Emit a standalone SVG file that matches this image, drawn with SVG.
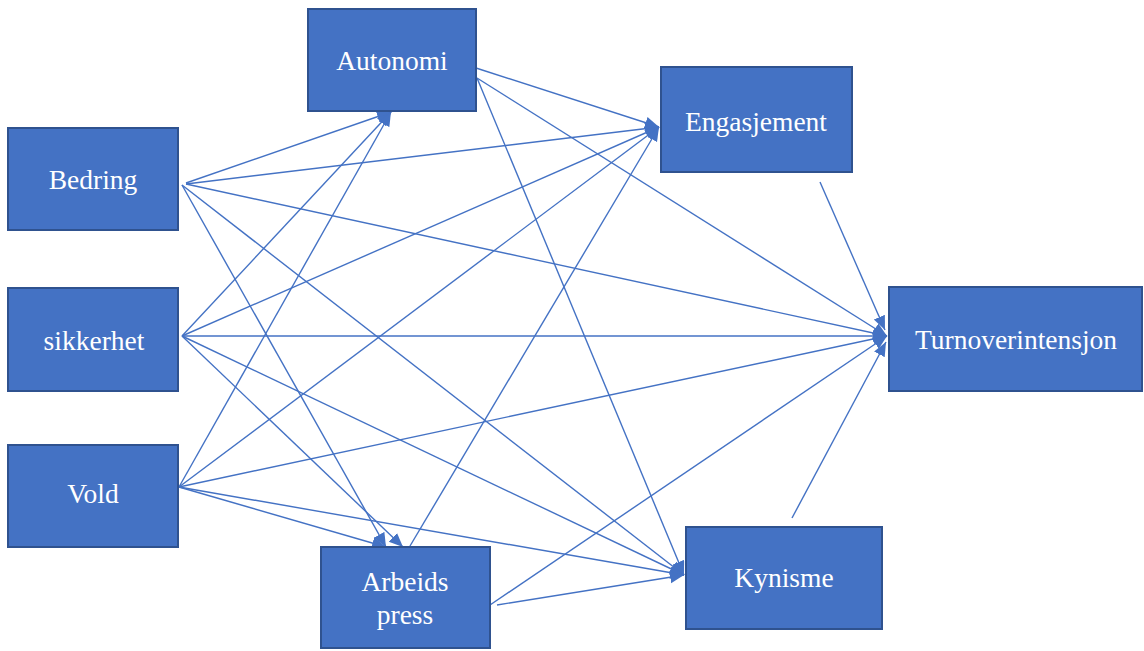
<svg xmlns="http://www.w3.org/2000/svg" width="1144" height="651" viewBox="0 0 1144 651">
<style>
.box{fill:#4472C4;stroke:#2F528F;stroke-width:2}
.lbl{font-family:"Liberation Serif","Times New Roman",serif;font-size:27.5px;fill:#ffffff;text-anchor:middle}
.c{stroke:#4472C4;stroke-width:1.4;fill:none;marker-end:url(#ah)}
</style>
<defs>
<marker id="ah" markerUnits="userSpaceOnUse" markerWidth="15" markerHeight="13" refX="14" refY="6" orient="auto">
<path d="M0,0 L14,6 L0,12 z" fill="#4472C4"/>
</marker>
</defs>
<rect width="1144" height="651" fill="#ffffff"/>
<g id="connectors">
<line class="c" x1="186" y1="183" x2="391" y2="112"/>
<line class="c" x1="186" y1="184" x2="659" y2="127"/>
<line class="c" x1="186" y1="184" x2="887" y2="336"/>
<line class="c" x1="182" y1="185" x2="386" y2="547"/>
<line class="c" x1="182" y1="185" x2="684" y2="575"/>
<line class="c" x1="182" y1="336" x2="391" y2="112"/>
<line class="c" x1="182" y1="336" x2="659" y2="127"/>
<line class="c" x1="182" y1="336" x2="887" y2="336"/>
<line class="c" x1="182" y1="336" x2="403" y2="547"/>
<line class="c" x1="182" y1="336" x2="684" y2="575"/>
<line class="c" x1="179" y1="487" x2="391" y2="112"/>
<line class="c" x1="179" y1="487" x2="659" y2="127"/>
<line class="c" x1="179" y1="487" x2="887" y2="336"/>
<line class="c" x1="179" y1="487" x2="386" y2="547"/>
<line class="c" x1="179" y1="487" x2="684" y2="575"/>
<line class="c" x1="476" y1="68" x2="659" y2="127"/>
<line class="c" x1="477" y1="78" x2="887" y2="336"/>
<line class="c" x1="477" y1="78" x2="684" y2="575"/>
<line class="c" x1="410" y1="546" x2="659" y2="127"/>
<line class="c" x1="490" y1="605" x2="887" y2="336"/>
<line class="c" x1="497" y1="605" x2="684" y2="575"/>
<line class="c" x1="820" y1="182" x2="885" y2="330"/>
<line class="c" x1="792" y1="518" x2="886" y2="342"/>
</g>
<g id="autonomi"><rect class="box" x="308" y="9" width="168" height="102"/><text class="lbl" x="392" y="70">Autonomi</text></g>
<g id="engasjement"><rect class="box" x="661" y="67" width="191" height="105"/><text class="lbl" x="756" y="131">Engasjement</text></g>
<g id="turnoverintensjon"><rect class="box" x="889" y="287" width="253" height="104"/><text class="lbl" x="1016" y="349">Turnoverintensjon</text></g>
<g id="bedring"><rect class="box" x="8" y="128" width="170" height="102"/><text class="lbl" x="93" y="189">Bedring</text></g>
<g id="sikkerhet"><rect class="box" x="8" y="288" width="170" height="103"/><text class="lbl" x="94" y="350">sikkerhet</text></g>
<g id="vold"><rect class="box" x="8" y="445" width="170" height="102"/><text class="lbl" x="93" y="503">Vold</text></g>
<g id="arbeidspress"><rect class="box" x="321" y="547" width="169" height="101"/><text class="lbl" x="405" y="591">Arbeids</text><text class="lbl" x="405" y="624">press</text></g>
<g id="kynisme"><rect class="box" x="686" y="527" width="196" height="102"/><text class="lbl" x="784" y="587">Kynisme</text></g>
</svg>
